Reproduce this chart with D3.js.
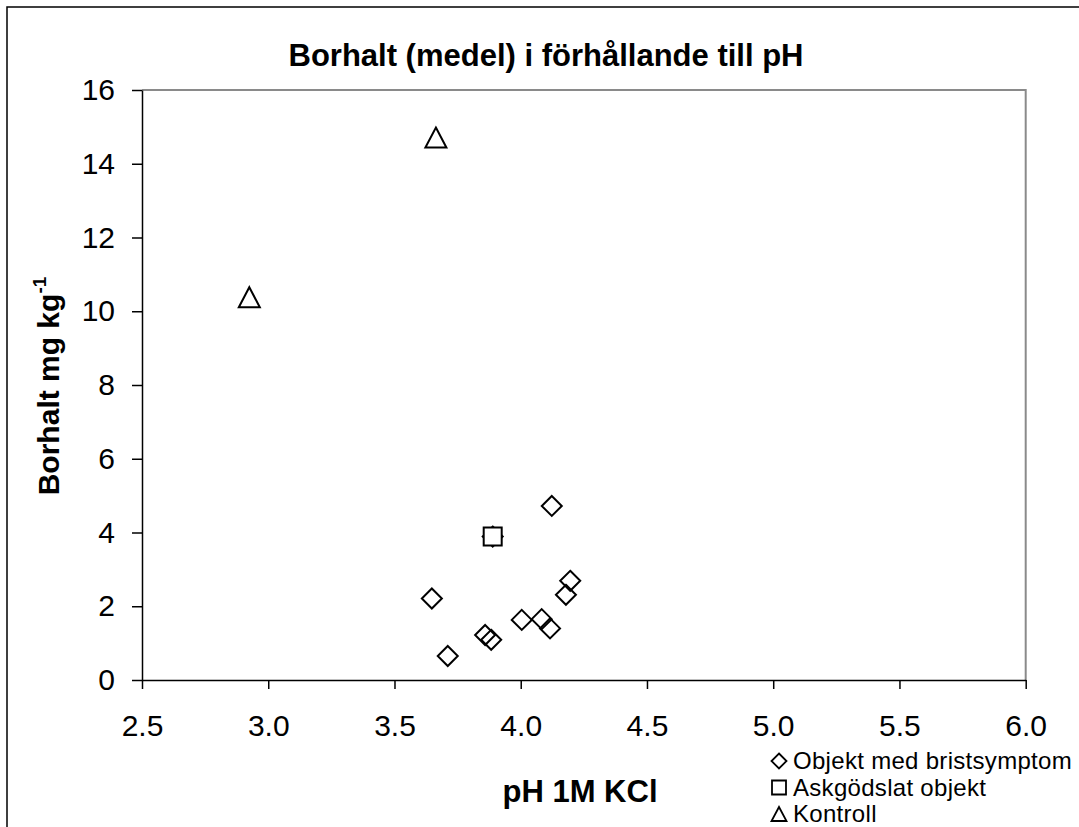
<!DOCTYPE html>
<html>
<head>
<meta charset="utf-8">
<script src="https://cdn.jsdelivr.net/npm/d3@7"></script>
<style>
  body { margin: 0; background: #fff; }
  text { font-family: "Liberation Sans", Arial, sans-serif; fill: #000; }
</style>
</head>
<body>
<div id="chart"></div>
<script>
// DATA
const seriesNames = ["Objekt med bristsymptom", "Askgödslat objekt", "Kontroll"]
const bristPH  = [3.648, 3.711, 3.859, 3.883, 3.889, 4.004, 4.083, 4.116, 4.123, 4.179, 4.196]
const bristBor = [2.21, 0.65, 1.22, 1.09, 3.89, 1.63, 1.65, 1.40, 4.72, 2.31, 2.69]
const askaPH  = [3.889]
const askaBor = [3.89]
const kontrollPH  = [2.925, 3.664]
const kontrollBor = [10.38, 14.71]
const xTicks = [2.5, 3.0, 3.5, 4.0, 4.5, 5.0, 5.5, 6.0]
const yTicks = [0, 2, 4, 6, 8, 10, 12, 14, 16]

const width = 1079, height = 827
const plot = {left: 142, right: 1025.7, top: 90, bottom: 680}

// marker shapes
const diamond = r => `M0,${-r}L${r},0L0,${r}L${-r},0Z`
const square = h => `M${-h},${-h}h${2*h}v${2*h}h${-2*h}Z`
const triangle = (w, h) => `M0,${-h/2}L${w/2},${h/2}L${-w/2},${h/2}Z`

let svg = d3.select("#chart").append("svg")
  .attr("width", width)
  .attr("height", height)

svg.append("rect")
  .attr("width", width).attr("height", height)
  .attr("fill", "#fff")

// outer chart frame (cut off at right and bottom)
svg.append("rect")
  .attr("x", 7).attr("y", 7)
  .attr("width", 1200).attr("height", 1000)
  .attr("fill", "none")
  .attr("stroke", "#000")
  .attr("stroke-width", 1.5)

// SCALES
let xScale = d3.scaleLinear().domain([2.5, 6]).range([plot.left, plot.right])
let yScale = d3.scaleLinear().domain([0, 16]).range([plot.bottom, plot.top])

// grey top/right plot border
svg.append("path")
  .attr("d", `M${plot.left},${plot.top}H${plot.right}V${plot.bottom}`)
  .attr("fill", "none")
  .attr("stroke", "#8a8a8a")
  .attr("stroke-width", 2)

// AXES
let yAxis = d3.axisLeft(yScale)
  .tickValues(yTicks)
  .tickSize(10)
  .tickSizeOuter(0)
  .tickPadding(17)
  .tickFormat(d3.format("d"))

let xAxis = d3.axisBottom(xScale)
  .tickValues(xTicks)
  .tickSize(9)
  .tickSizeOuter(0)
  .tickPadding(26)
  .tickFormat(d3.format(".1f"))

svg.append("g")
  .attr("class", "y axis")
  .attr("transform", "translate(" + plot.left + ",0)")
  .call(yAxis)

svg.append("g")
  .attr("class", "x axis")
  .attr("transform", "translate(0," + plot.bottom + ")")
  .call(xAxis)

svg.selectAll(".axis path, .axis line")
  .attr("stroke", "#000")
  .attr("stroke-width", 1.5)
svg.selectAll(".axis text")
  .attr("font-family", null)
  .attr("font-size", 30)
  .attr("fill", "#000")

// POINTS
let bristData = bristPH.map((d, i) => ({x: d, y: bristBor[i]}))
let askaData = askaPH.map((d, i) => ({x: d, y: askaBor[i]}))
let kontrollData = kontrollPH.map((d, i) => ({x: d, y: kontrollBor[i]}))

svg.append("g").selectAll("path")
  .data(bristData)
  .enter().append("path")
  .attr("transform", d => "translate(" + xScale(d.x) + "," + yScale(d.y) + ")")
  .attr("d", diamond(10))
  .attr("fill", "none")
  .attr("stroke", "#000")
  .attr("stroke-width", 2)

svg.append("g").selectAll("path")
  .data(askaData)
  .enter().append("path")
  .attr("transform", d => "translate(" + xScale(d.x) + "," + yScale(d.y) + ")")
  .attr("d", square(9))
  .attr("fill", "#fff")
  .attr("stroke", "#000")
  .attr("stroke-width", 2)

svg.append("g").selectAll("path")
  .data(kontrollData)
  .enter().append("path")
  .attr("transform", d => "translate(" + xScale(d.x) + "," + yScale(d.y) + ")")
  .attr("d", triangle(21, 20))
  .attr("fill", "none")
  .attr("stroke", "#000")
  .attr("stroke-width", 2)

// TITLES
svg.append("text")
  .attr("x", 546).attr("y", 66)
  .attr("text-anchor", "middle")
  .attr("font-size", 31)
  .attr("font-weight", "bold")
  .text("Borhalt (medel) i förhållande till pH")

svg.append("text")
  .attr("x", 580).attr("y", 802)
  .attr("text-anchor", "middle")
  .attr("font-size", 31)
  .attr("font-weight", "bold")
  .text("pH 1M KCl")

let yLabel = svg.append("text")
  .attr("transform", "translate(59,386) rotate(-90)")
  .attr("text-anchor", "middle")
  .attr("font-size", 30)
  .attr("font-weight", "bold")
yLabel.append("tspan").text("Borhalt mg kg")
yLabel.append("tspan")
  .attr("font-size", 19)
  .attr("dy", -13)
  .text("-1")

// LEGEND
let legendShapes = [diamond(7.5), square(7), triangle(15, 14)]
let legend = svg.append("g")
  .attr("transform", "translate(779,761)")
  .selectAll("g")
  .data(seriesNames)
  .enter().append("g")
  .attr("transform", (d, i) => "translate(0," + (i * 26.5) + ")")

legend.append("path")
  .attr("d", (d, i) => legendShapes[i])
  .attr("fill", "none")
  .attr("stroke", "#000")
  .attr("stroke-width", 1.8)

legend.append("text")
  .attr("x", 14)
  .attr("dy", "0.35em")
  .attr("font-size", 24)
  .attr("letter-spacing", 0.3)
  .text(d => d)
</script>
</body>
</html>
